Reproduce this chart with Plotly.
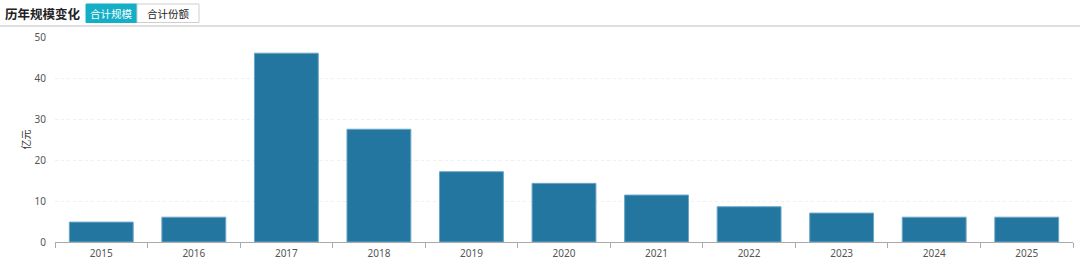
import plotly.graph_objects as go

years = ["2015", "2016", "2017", "2018", "2019", "2020", "2021", "2022", "2023", "2024", "2025"]
scale = [4.85, 6.05, 46.05, 27.5, 17.15, 14.3, 11.45, 8.6, 7.05, 6.05, 6.05]
y_ticks = [0, 10, 20, 30, 40, 50]

W, H = 1080, 264
ML, MR, MT, MB = 55, 7, 37, 22
PW, PH = W - ML - MR, H - MT - MB


def px(x):
    return (x - ML) / PW


def py(y):
    return (H - MB - y) / PH


FONT = "Noto Sans CJK SC, Noto Sans, sans-serif"

fig = go.Figure()
fig.add_trace(go.Bar(
    x=years, y=scale,
    marker=dict(color="#22769f", line=dict(color="#6aa6c6", width=1)),
    hoverinfo="x+y",
))

shapes = [
    dict(type="line", xref="paper", yref="paper", x0=px(0), x1=px(W), y0=py(26), y1=py(26),
         line=dict(color="#d4d4d4", width=1.5)),
    dict(type="rect", xref="paper", yref="paper", x0=px(86), x1=px(137), y0=py(22.5), y1=py(4),
         fillcolor="#15aec7", line=dict(color="#15aec7", width=1)),
    dict(type="rect", xref="paper", yref="paper", x0=px(137), x1=px(199), y0=py(22.5), y1=py(4),
         fillcolor="white", line=dict(color="#cfcfcf", width=1)),
]

annotations = [
    dict(text="<b>历年规模变化</b>", xref="paper", yref="paper", x=px(3), y=py(13.5),
         xanchor="left", yanchor="middle", showarrow=False,
         font=dict(family=FONT, size=12.5, color="#222")),
    dict(text="合计规模", xref="paper", yref="paper", x=px(111.5), y=py(13.5),
         xanchor="center", yanchor="middle", showarrow=False,
         font=dict(family=FONT, size=10.5, color="white")),
    dict(text="合计份额", xref="paper", yref="paper", x=px(168), y=py(13.5),
         xanchor="center", yanchor="middle", showarrow=False,
         font=dict(family=FONT, size=10.5, color="#222")),
]

fig.update_layout(
    width=W, height=H,
    margin=dict(l=ML, r=MR, t=MT, b=MB, pad=0),
    paper_bgcolor="white", plot_bgcolor="white",
    bargap=0.31,
    showlegend=False,
    shapes=shapes,
    annotations=annotations,
    font=dict(family=FONT, size=10, color="#666"),
    xaxis=dict(
        type="category",
        automargin=False,
        showline=True, linecolor="#aaaaaa", linewidth=1,
        ticks="outside", ticklen=5, tickcolor="#aaaaaa",
        tickson="boundaries",
        showgrid=False,
        ticklabelstandoff=2,
        tickfont=dict(family="Noto Sans, sans-serif", size=10, color="#555"),
        fixedrange=True,
    ),
    yaxis=dict(
        range=[0, 50],
        automargin=False,
        tickvals=y_ticks,
        showgrid=True, gridcolor="#efefef", griddash="dot", gridwidth=1,
        zeroline=False, showline=False,
        ticks="", ticklabelstandoff=8,
        tickfont=dict(family="Noto Sans, sans-serif", size=10, color="#555"),
        title=dict(text="亿元", standoff=2, font=dict(family=FONT, size=10, color="#333")),
        fixedrange=True,
    ),
)

fig.write_html("out.html")
